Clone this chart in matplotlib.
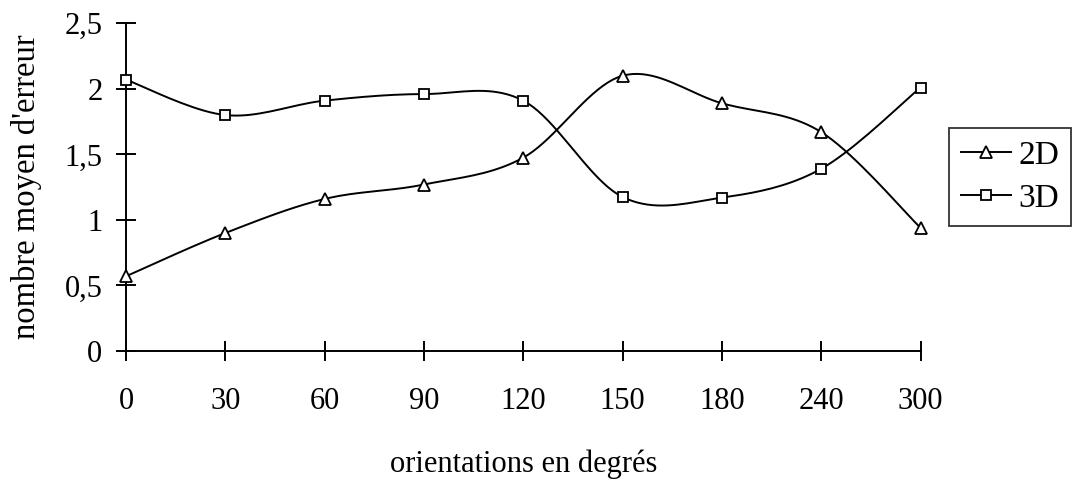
import numpy as np
import matplotlib
matplotlib.use("Agg")
import matplotlib.pyplot as plt
from matplotlib.lines import Line2D

categories = ["0", "30", "60", "90", "120", "150", "180", "240", "300"]
values_2d = [0.57, 0.90, 1.16, 1.27, 1.475, 2.10, 1.89, 1.67, 0.94]
values_3d = [2.07, 1.80, 1.91, 1.96, 1.91, 1.175, 1.17, 1.39, 2.01]
y_ticks = [0, 0.5, 1, 1.5, 2, 2.5]
y_tick_labels = ["0", "0,5", "1", "1,5", "2", "2,5"]

plt.rcParams["font.family"] = ["Liberation Serif", "DejaVu Serif"]
FS_TICK = 22
FS_XLAB = 22
FS_YLAB = 23.5
FS_LEG = 24


def smooth(xs, ys, n=20):
    """Catmull-Rom (Excel-like) smoothing through the given points."""
    xs = np.asarray(xs, float)
    ys = np.asarray(ys, float)
    px = np.concatenate([[xs[0]], xs, [xs[-1]]])
    py = np.concatenate([[ys[0]], ys, [ys[-1]]])
    ox, oy = [], []
    for i in range(1, len(px) - 2):
        p0 = np.array([px[i - 1], py[i - 1]])
        p1 = np.array([px[i], py[i]])
        p2 = np.array([px[i + 1], py[i + 1]])
        p3 = np.array([px[i + 2], py[i + 2]])
        c1 = p1 + (p2 - p0) / 6.0
        c2 = p2 - (p3 - p1) / 6.0
        t = np.linspace(0, 1, n, endpoint=(i == len(px) - 3))[:, None]
        pts = ((1 - t) ** 3) * p1 + 3 * ((1 - t) ** 2) * t * c1 + 3 * (1 - t) * t ** 2 * c2 + t ** 3 * p2
        ox.extend(pts[:, 0])
        oy.extend(pts[:, 1])
    return np.array(ox), np.array(oy)


fig = plt.figure(figsize=(10.75, 4.83), dpi=100)
ax = fig.add_axes([126 / 1075, 1 - 351 / 483, (920.5 - 126) / 1075, (351 - 23.3) / 483])

x = np.arange(len(categories))
lw = 1.4
for vals, mk, ms in [(values_2d, "^", 8), (values_3d, "s", 7)]:
    sx, sy = smooth(x, vals)
    ax.plot(sx, sy, color="black", lw=lw, zorder=2, clip_on=False)
    ax.plot(x, vals, linestyle="none", marker=mk, ms=ms, mfc="white", mec="black", mew=1.3,
            zorder=3, clip_on=False)

handles = [
    Line2D([], [], color="black", lw=lw, marker="^", ms=8, mfc="white", mec="black", mew=1.3),
    Line2D([], [], color="black", lw=lw, marker="s", ms=7, mfc="white", mec="black", mew=1.3),
]
leg = fig.legend(handles, ["2D", "3D"], loc="upper right",
                 bbox_to_anchor=(1071 / 1075, 1 - 128 / 483),
                 frameon=True, fancybox=False, edgecolor="black", fontsize=FS_LEG,
                 handlelength=1.5, handletextpad=0.2, borderpad=0.36, labelspacing=0.39,
                 borderaxespad=0)
leg.get_frame().set_linewidth(1.3)

ax.set_xlim(0, len(categories) - 1)
ax.set_ylim(0, 2.5)
ax.set_xticks(x)
ax.set_xticklabels(categories)
ax.set_yticks(y_ticks)
ax.set_yticklabels(y_tick_labels)
for s in ["top", "right"]:
    ax.spines[s].set_visible(False)
for s in ["left", "bottom"]:
    ax.spines[s].set_linewidth(1.4)
ax.tick_params(axis="both", direction="inout", length=14, width=1.4, labelsize=FS_TICK, colors="black")
ax.tick_params(axis="x", pad=19)
ax.tick_params(axis="y", pad=10)
ax.patch.set_visible(False)

ax.set_ylabel("nombre moyen d'erreur", fontsize=FS_YLAB, labelpad=16)
ax.set_xlabel("orientations en degrés", fontsize=FS_XLAB, labelpad=24)

fig.savefig("out.png", dpi=100)
